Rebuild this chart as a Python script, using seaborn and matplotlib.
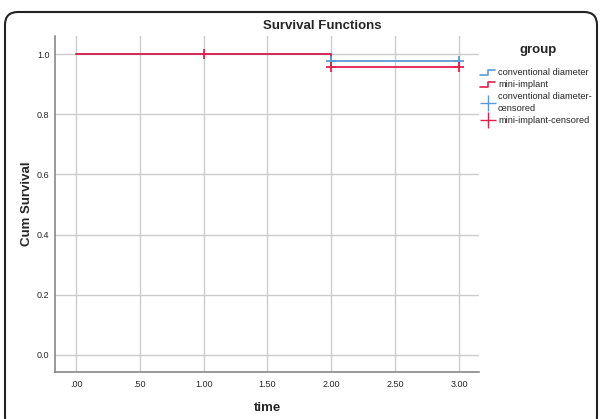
import matplotlib
matplotlib.use('Agg')
import matplotlib.pyplot as plt
import seaborn as sns
import pandas as pd
from matplotlib.lines import Line2D
from matplotlib.patches import FancyBboxPatch
from matplotlib.legend_handler import HandlerBase

# 데이터
groups = ['conventional diameter', 'mini-implant']
time_conv = [0.0, 2.0, 3.0]
surv_conv = [1.0, 0.978, 0.978]
time_mini = [0.0, 2.0, 3.0]
surv_mini = [1.0, 0.957, 0.957]
cens_time_conv = [2.0, 3.0]
cens_surv_conv = [0.978, 0.978]
cens_time_mini = [1.0, 2.0, 3.0]
cens_surv_mini = [1.0, 0.957, 0.957]
xticks = [0.0, 0.5, 1.0, 1.5, 2.0, 2.5, 3.0]
xticklabels = ['.00', '.50', '1.00', '1.50', '2.00', '2.50', '3.00']
yticks = [0.0, 0.2, 0.4, 0.6, 0.8, 1.0]

blue = '#5b9bd5'
red = '#e0204c'

sns.set_theme(style='white')
plt.rcParams['font.family'] = ['Liberation Sans', 'DejaVu Sans']

df = pd.DataFrame({
    'time': time_conv + time_mini,
    'surv': surv_conv + surv_mini,
    'group': [groups[0]] * len(time_conv) + [groups[1]] * len(time_mini),
})
cens = pd.DataFrame({
    'time': cens_time_conv + cens_time_mini,
    'surv': cens_surv_conv + cens_surv_mini,
    'group': [groups[0]] * len(cens_time_conv) + [groups[1]] * len(cens_time_mini),
})
palette = {groups[0]: blue, groups[1]: red}


# 범례용 계단 모양 핸들
class StepHandler(HandlerBase):
    def create_artists(self, legend, orig_handle, xdescent, ydescent,
                       width, height, fontsize, trans):
        x0, y0 = -xdescent, -ydescent
        xm = x0 + width * 0.5
        xs = [x0, xm, xm, x0 + width]
        ys = [y0 + height * 0.1, y0 + height * 0.1, y0 + height * 0.8, y0 + height * 0.8]
        line = Line2D(xs, ys, color=orig_handle.get_color(),
                      lw=orig_handle.get_linewidth(), transform=trans)
        return [line]


fig = plt.figure(figsize=(6.01, 4.19), dpi=100)
# 축 위치 (픽셀 기준: 왼쪽 55, 오른쪽 479, 위 36, 아래 372)
ax = fig.add_axes([55 / 601, 47 / 419, 424 / 601, 336 / 419])

sns.lineplot(data=df, x='time', y='surv', hue='group', palette=palette,
             drawstyle='steps-post', linewidth=1.3, legend=False, ax=ax)
sns.scatterplot(data=cens, x='time', y='surv', hue='group', palette=palette,
                marker='+', s=50, linewidth=1.3, legend=False, ax=ax, zorder=5)

ax.set_xlim(-0.164, 3.157)
ax.set_ylim(-0.0565, 1.06)
ax.set_xticks(xticks)
ax.set_xticklabels(xticklabels)
ax.set_yticks(yticks)
ax.set_yticklabels([f'{v:.1f}' for v in yticks])
ax.tick_params(axis='x', labelsize=6.5, length=0, pad=6)
ax.tick_params(axis='y', labelsize=6.5, length=0, pad=4)
ax.grid(True, color='#cccccc', linewidth=1)
ax.set_axisbelow(True)
for side in ['top', 'right']:
    ax.spines[side].set_visible(False)
for side in ['left', 'bottom']:
    ax.spines[side].set_color('#888888')
    ax.spines[side].set_linewidth(1.2)

ax.set_xlabel('time', fontsize=9.5, fontweight='bold', labelpad=9)
ax.set_ylabel('Cum Survival', fontsize=9.5, fontweight='bold', labelpad=3)
fig.text(322 / 601, 1 - 26 / 419, 'Survival Functions', fontsize=9.5,
         fontweight='bold', ha='center', va='center')

# 범례
step_conv = Line2D([], [], color=blue, lw=1.2)
step_mini = Line2D([], [], color=red, lw=1.2)
handles = [
    step_conv,
    step_mini,
    Line2D([], [], color=blue, marker='+', markersize=12, lw=0),
    Line2D([], [], color=red, marker='+', markersize=12, lw=0),
]
labels = ['conventional diameter', 'mini-implant',
          'conventional diameter-\ncensored', 'mini-implant-censored']
fig.text(538 / 601, 1 - 50 / 419, 'group', fontsize=9.5, fontweight='bold',
         ha='center', va='center')
leg = fig.legend(handles, labels, loc='upper left',
                 bbox_to_anchor=(472 / 601, 1 - 60 / 419), frameon=False,
                 fontsize=6.7, handlelength=1.6, handletextpad=0.3,
                 labelspacing=0.3,
                 handler_map={step_conv: StepHandler(), step_mini: StepHandler()})
for t in leg.get_texts():
    t.set_linespacing(1.45)

# 둥근 테두리 (아래쪽은 그림 밖으로 잘림)
border = FancyBboxPatch((0.05, -0.11), 5.92, 4.18,
                        boxstyle='round,pad=0,rounding_size=0.13',
                        transform=fig.dpi_scale_trans, fill=False,
                        edgecolor='#222222', linewidth=1.5)
fig.patches.append(border)

fig.savefig('out.png', dpi=100)
